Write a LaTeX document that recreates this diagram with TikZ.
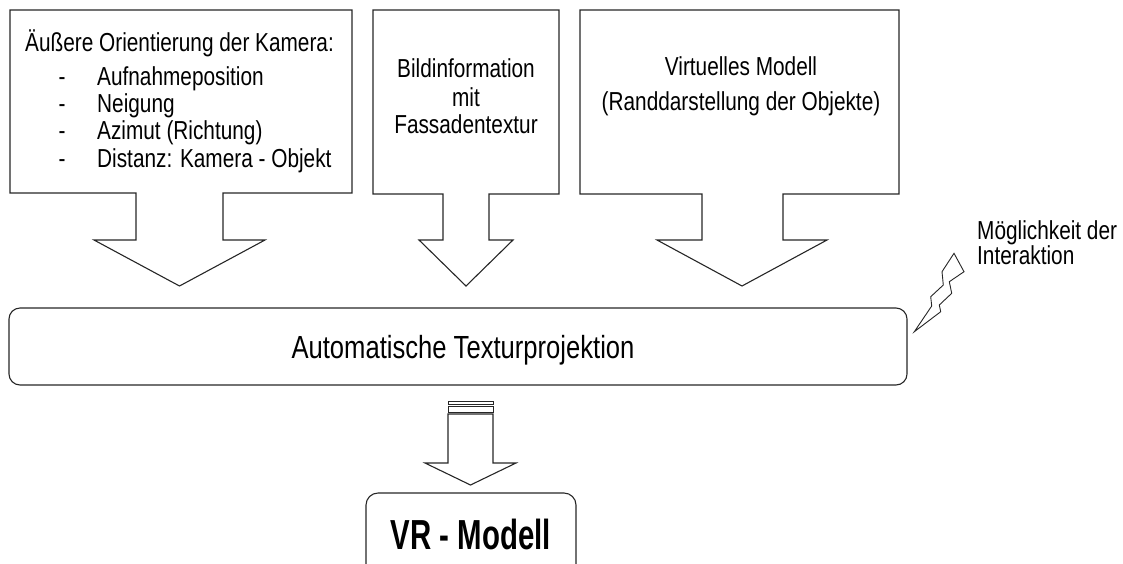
\documentclass[tikz,border=0pt]{standalone}
\usepackage{fontspec}
\setmainfont{Liberation Sans}[FakeStretch=0.8]
\newfontfamily\vrfont{Liberation Sans}[FakeStretch=0.7]
\begin{document}
\begin{tikzpicture}[x=1pt,y=-1pt,
  line/.style={draw=black!85,line width=1.1pt,line join=miter},
  txt/.style={inner sep=0pt,font=\fontsize{26}{30}\selectfont},
  bigtxt/.style={inner sep=0pt,font=\fontsize{32}{36}\selectfont},
  vrtxt/.style={inner sep=0pt,font=\vrfont\fontsize{42}{46}\selectfont\bfseries}]
\useasboundingbox (0,0) rectangle (1123,563);
\clip (0,0) rectangle (1123,563);
% box 1 with arrow
\draw[line] (10,10) -- (352,10) -- (352,193) -- (223,193) -- (223,240) -- (265,240)
  -- (179.5,286) -- (94,240) -- (136,240) -- (136,193) -- (10,193) -- cycle;
\node[txt,anchor=base west] (t1) at (25,51) {Äußere Orientierung der Kamera:};
\node[txt,anchor=base] (d1) at (62,85) {-};
\node[txt,anchor=base west] (l1) at (97,85) {Aufnahmeposition};
\node[txt,anchor=base] (d2) at (62,112) {-};
\node[txt,anchor=base west] (l2) at (97,112) {Neigung};
\node[txt,anchor=base] (d3) at (62,139) {-};
\node[txt,anchor=base west] (l3) at (97,139) {Azimut (Richtung)};
\node[txt,anchor=base] (d4) at (62,167) {-};
\node[txt,anchor=base west] (l4) at (97,167) {Distanz: Kamera - Objekt};
% box 2 with arrow
\draw[line] (373,10) -- (559,10) -- (559,194) -- (489,194) -- (489,240) -- (513,240)
  -- (466,286) -- (419,240) -- (443,240) -- (443,194) -- (373,194) -- cycle;
\node[txt,anchor=base] (b1) at (466,77) {Bildinformation};
\node[txt,anchor=base] (b2) at (466,106) {mit};
\node[txt,anchor=base] (b3) at (466,133) {Fassadentextur};
% box 3 with arrow
\draw[line] (580,10) -- (899,10) -- (899,194) -- (783,194) -- (783,240) -- (827,240)
  -- (742,286) -- (657,240) -- (702,240) -- (702,194) -- (580,194) -- cycle;
\node[txt,anchor=base] (v1) at (741,75) {Virtuelles Modell};
\node[txt,anchor=base] (v2) at (741,110) {(Randdarstellung der Objekte)};
% main box
\draw[line,rounded corners=11pt] (9,308) rectangle (907,385);
\node[bigtxt,anchor=base] (auto) at (463,358) {Automatische Texturprojektion};
% lightning bolt
\draw[line,line width=0.9pt] (954,253.3) -- (964,271.7) -- (949.3,281.7) -- (951.7,293.3)
  -- (939.3,305) -- (940.7,311.7) -- (914.3,331.7) -- (931.7,306) -- (930.7,296.7)
  -- (943.3,285) -- (942,271.7) -- cycle;
\node[txt,anchor=base west] (m1) at (977,239) {Möglichkeit der};
\node[txt,anchor=base west] (m2) at (977,264) {Interaktion};
% striped arrow
\draw[line,line width=0.9pt] (448,401) rectangle (493,404);
\draw[line,line width=0.9pt] (448,406) rectangle (493,412);
\draw[line] (448,414) -- (493,414) -- (493,463) -- (516,463) -- (470.5,485)
  -- (425,463) -- (448,463) -- cycle;
% VR box
\draw[line,rounded corners=12pt] (366,493) rectangle (576,600);
\node[vrtxt,anchor=base] (vr) at (471,549) {VR - Modell};
\end{tikzpicture}
\end{document}
